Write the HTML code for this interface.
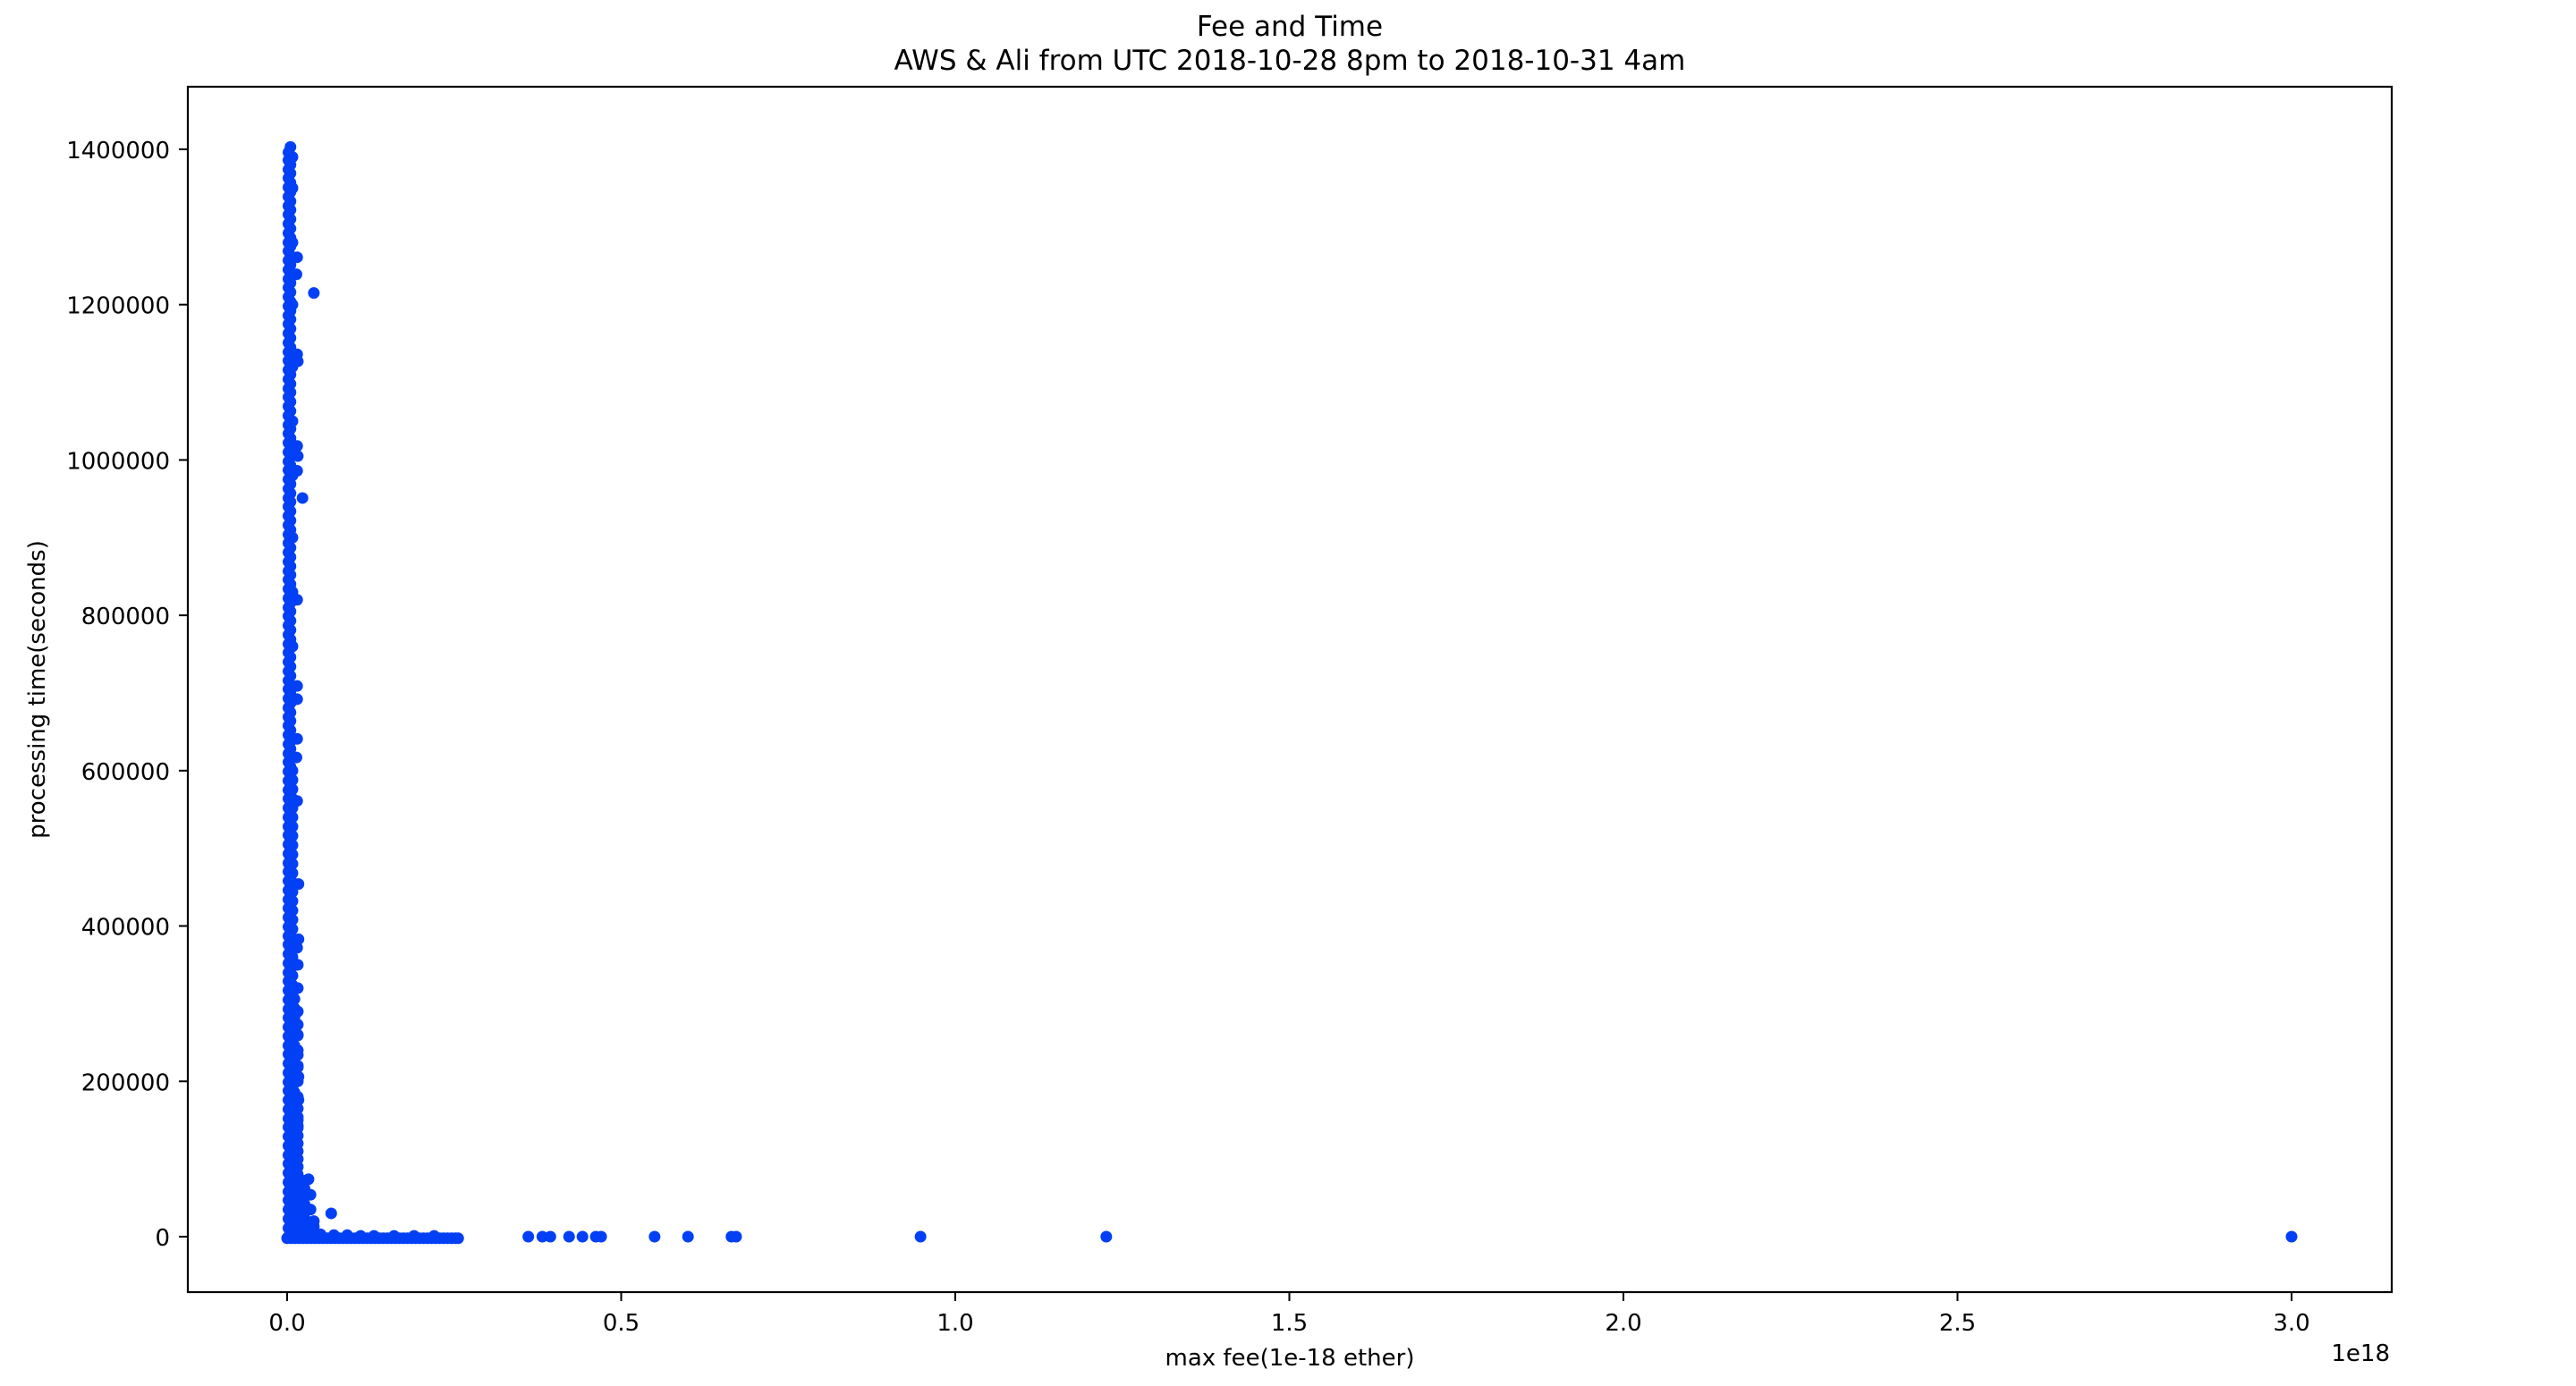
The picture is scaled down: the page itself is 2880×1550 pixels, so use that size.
<!DOCTYPE html>
<html><head><meta charset="utf-8"><style>
html,body{margin:0;padding:0;background:#fff;}
svg{display:block;font-family:"DejaVu Sans","Liberation Sans",sans-serif;}
</style></head><body>
<svg id="chart" width="2880" height="1550" viewBox="0 0 2880 1550" xmlns="http://www.w3.org/2000/svg">
<rect x="0" y="0" width="2880" height="1550" fill="#fff"/>
<text x="1442" y="40" font-size="31" text-anchor="middle">Fee and Time</text>
<text x="1442" y="78" font-size="31" text-anchor="middle">AWS &amp; Ali from UTC 2018-10-28 8pm to 2018-10-31 4am</text>
<g id="marks"></g>
<g id="axes"></g>
<text x="1442" y="1527" font-size="26" text-anchor="middle">max fee(1e-18 ether)</text>
<text x="2672" y="1522" font-size="26" text-anchor="end">1e18</text>
<text transform="translate(50,771) rotate(-90)" font-size="26" text-anchor="middle">processing time(seconds)</text>
</svg>
<script>
// x values in units of 1e18, y values in seconds
const xTicks = [0.0, 0.5, 1.0, 1.5, 2.0, 2.5, 3.0];
const xTickLabels = ["0.0","0.5","1.0","1.5","2.0","2.5","3.0"];
const yTicks = [0, 200000, 400000, 600000, 800000, 1000000, 1200000, 1400000];
const yTickLabels = ["0","200000","400000","600000","800000","1000000","1200000","1400000"];

// dense column near zero fee
const colAFee = 0.002;
const colAVals = [0,11000,23000,35000,47000,58000,70000,82000,94000,105000,117000,129000,141000,152000,164000,176000,188000,199000,211000,223000,235000,246000,258000,270000,282000,293000,305000,317000,329000,340000,352000,364000,376000,387000,399000,411000,423000,434000,446000,458000,470000,481000,493000,505000,517000,528000,540000,552000,564000,575000,587000,599000,611000,622000,634000,646000,658000,669000,681000,693000,705000,716000,728000,740000,752000,763000,775000,787000,799000,810000,822000,834000,846000,857000,869000,881000,893000,904000,916000,928000,940000,951000,963000,975000,987000,998000,1010000,1022000,1034000,1045000,1057000,1069000,1081000,1092000,1104000,1116000,1128000,1139000,1151000,1163000,1175000,1186000,1198000,1210000,1222000,1233000,1245000,1257000,1269000,1280000,1292000,1304000,1316000,1327000,1339000,1351000,1363000,1374000,1386000,1396000];
const colA2Fee = 0.005;
const colA2Vals = [6000,17000,29000,41000,53000,64000,76000,88000,100000,111000,123000,135000,147000,158000,170000,182000,194000,205000,217000,229000,241000,252000,264000,276000,288000,299000,311000,323000,335000,346000,358000,370000,382000,393000,405000,417000,429000,440000,452000,464000,476000,487000,499000,511000,523000,534000,546000,558000,570000,581000,593000,605000,617000,628000,640000,652000,664000,675000,687000,699000,711000,722000,734000,746000,758000,769000,781000,793000,805000,816000,828000,840000,852000,863000,875000,887000,899000,910000,922000,934000,946000,957000,969000,981000,993000,1004000,1016000,1028000,1040000,1051000,1063000,1075000,1087000,1098000,1110000,1122000,1134000,1145000,1157000,1169000,1181000,1192000,1204000,1216000,1228000,1239000,1251000,1263000,1275000,1286000,1298000,1310000,1322000,1333000,1345000,1357000,1369000,1380000,1392000,1403000];
const colBFee = 0.008;
const colBVals = [0,12000,24000,36000,48000,60000,72000,84000,96000,108000,120000,132000,144000,156000,168000,180000,192000,204000,216000,228000,240000,252000,264000,276000,288000,300000,312000,324000,336000,348000,360000,372000,384000,396000,408000,420000,432000,444000,456000,468000,480000,492000,504000,516000,528000,540000,552000,564000,576000,588000,600000,640000,690000,760000,830000,900000,980000,1050000,1120000,1200000,1280000,1350000,1390000];
const colB2Fee = 0.011;
const colB2Vals = [6000,18000,30000,42000,54000,66000,78000,90000,102000,114000,126000,138000,150000,162000,174000,186000,198000,210000,222000,234000,246000,258000,270000,282000,294000,306000];
const colCFee = 0.016;
const colCVals = [0,10000,20000,30000,40000,50000,60000,70000,80000,90000,100000,110000,120000,130000,140000,150000,165000,180000,200000,220000,240000,260000,290000,320000,350000];
const colDFee = 0.026;
const colDVals = [0,8000,16000,24000,32000,42000,52000,62000,72000];
const colEFee = 0.040;
const colEVals = [0,6000,13000,20000];
// horizontal band at roughly zero processing time
const bandFees = [0.0,0.006,0.012,0.018,0.024,0.03,0.036,0.042,0.048,0.054,0.06,0.066,0.072,0.078,0.084,0.09,0.096,0.102,0.108,0.114,0.12,0.126,0.132,0.138,0.144,0.15,0.156,0.162,0.168,0.174,0.18,0.186,0.192,0.198,0.204,0.21,0.216,0.222,0.228,0.234,0.24,0.246,0.252,0.256];
const bandVals = [-2000,-2000,-2000,-2000,-2000,-2000,-2000,-2000,-2000,-2000,-2000,-2000,-2000,-2000,-2000,-2000,-2000,-2000,-2000,-2000,-2000,-2000,-2000,-2000,-2000,-2000,-2000,-2000,-2000,-2000,-2000,-2000,-2000,-2000,-2000,-2000,-2000,-2000,-2000,-2000,-2000,-2000,-2000,-2000];
const bandFees2 = [0.05,0.07,0.09,0.11,0.13,0.16,0.19,0.22];
const bandVals2 = [3000,2000,2000,1000,1000,1000,1000,1000];
// individual outliers
const outFees = [0.040,0.015,0.014,0.016,0.015,0.015,0.016,0.015,0.023,0.015,0.015,0.015,0.015,0.014,0.015,0.017,0.017,0.015,0.016,0.016,0.016,0.016,0.017,0.017,0.016,0.016,0.032,0.035,0.035,0.066,0.361,0.382,0.394,0.422,0.442,0.462,0.470,0.550,0.600,0.665,0.672,0.948,1.226,3.0];
const outVals = [1215000,1261000,1239000,1127000,1136000,1018000,1005000,986000,951000,820000,709000,692000,641000,617000,561000,454000,383000,372000,273000,259000,234000,218000,206000,176000,154000,143000,74000,54000,35000,30000,0,0,0,0,0,0,0,0,0,0,0,0,0,0];

const X0 = 321, XPER = 747;        // pixel for 0, px per 1e18
const Y0 = 1383, YPER = 868.6/1e6; // pixel for 0, px per second
function sx(v){ return X0 + v*XPER; }
function sy(v){ return Y0 - v*YPER; }

const NS = "http://www.w3.org/2000/svg";
const marks = document.getElementById('marks');
function dot(fee, val, name){
  const c = document.createElementNS(NS,'ellipse');
  c.setAttribute('cx', sx(fee));
  c.setAttribute('cy', sy(val));
  c.setAttribute('rx', 6.5);
  c.setAttribute('ry', 6.5);
  c.setAttribute('fill', '#0340f5');
  
  
  marks.appendChild(c);
}
colAVals.forEach(v => dot(colAFee, v, 'point-column-a'));
colA2Vals.forEach(v => dot(colA2Fee, v, 'point-column-a2'));
colBVals.forEach(v => dot(colBFee, v, 'point-column-b'));
colB2Vals.forEach(v => dot(colB2Fee, v, 'point-column-b2'));
colCVals.forEach(v => dot(colCFee, v, 'point-column-c'));
colDVals.forEach(v => dot(colDFee, v, 'point-column-d'));
colEVals.forEach(v => dot(colEFee, v, 'point-column-e'));
bandFees.forEach((f,i) => dot(f, bandVals[i], 'point-band'));
bandFees2.forEach((f,i) => dot(f, bandVals2[i], 'point-band'));
outFees.forEach((f,i) => dot(f, outVals[i], 'point-outlier'));

const axes = document.getElementById('axes');
const L=210, R=2674, T=97, B=1445;
const frame = document.createElementNS(NS,'rect');
frame.setAttribute('x', L); frame.setAttribute('y', T);
frame.setAttribute('width', R-L); frame.setAttribute('height', B-T);
frame.setAttribute('fill','none'); frame.setAttribute('stroke','#000'); frame.setAttribute('stroke-width','2.2');


axes.appendChild(frame);

xTicks.forEach((t,i) => {
  const x = sx(t);
  const ln = document.createElementNS(NS,'line');
  ln.setAttribute('x1',x); ln.setAttribute('x2',x); ln.setAttribute('y1',B); ln.setAttribute('y2',B+10);
  ln.setAttribute('stroke','#000'); ln.setAttribute('stroke-width','2');
  
  
  axes.appendChild(ln);
  const tx = document.createElementNS(NS,'text');
  tx.setAttribute('x',x); tx.setAttribute('y',B+43);
  tx.setAttribute('font-size','26'); tx.setAttribute('text-anchor','middle');
  tx.textContent = xTickLabels[i];
  
  
  axes.appendChild(tx);
});
yTicks.forEach((t,i) => {
  const y = sy(t);
  const ln = document.createElementNS(NS,'line');
  ln.setAttribute('x1',L-10); ln.setAttribute('x2',L); ln.setAttribute('y1',y); ln.setAttribute('y2',y);
  ln.setAttribute('stroke','#000'); ln.setAttribute('stroke-width','2');
  
  
  axes.appendChild(ln);
  const tx = document.createElementNS(NS,'text');
  tx.setAttribute('x',L-20); tx.setAttribute('y',y+10);
  tx.setAttribute('font-size','26'); tx.setAttribute('text-anchor','end');
  tx.textContent = yTickLabels[i];
  
  
  axes.appendChild(tx);
});
</script>
</body></html>
